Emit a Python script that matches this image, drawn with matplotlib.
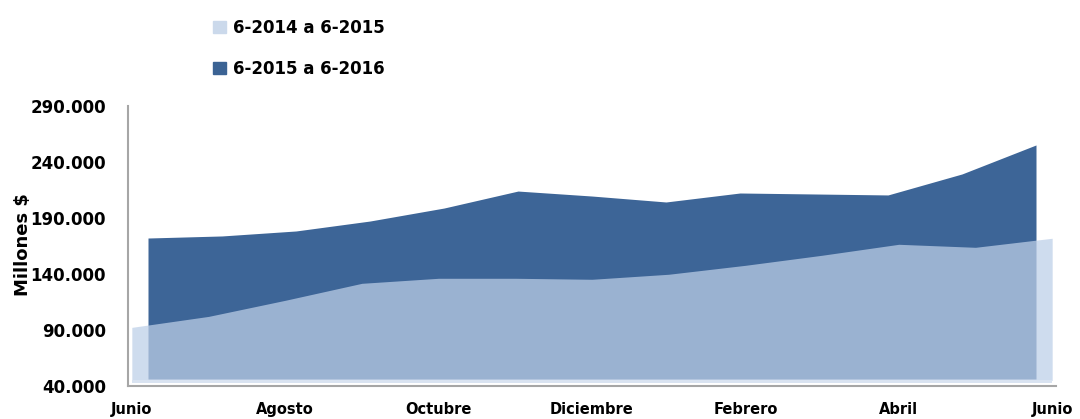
import numpy as np
import matplotlib.pyplot as plt
from matplotlib.patches import Patch
from matplotlib.ticker import FuncFormatter

# Monthly amounts, millions of pesos
months = ['Junio', 'Julio', 'Agosto', 'Septiembre', 'Octubre', 'Noviembre',
          'Diciembre', 'Enero', 'Febrero', 'Marzo', 'Abril', 'Mayo', 'Junio']
serie_2014 = [92000, 101800, 116200, 131400, 135900, 135900, 135000,
              139500, 147500, 156500, 166300, 163600, 171700]
serie_2015 = [170300, 172200, 176800, 186000, 198000, 213700, 209100,
              203600, 211900, 211000, 210100, 229500, 256300]
label_2014 = '6-2014 a 6-2015'
label_2015 = '6-2015 a 6-2016'

W, H = 1080, 419
dark = '#3d6597'
light = '#bdcfe8'

fig = plt.figure(figsize=(W / 100, H / 100), dpi=100)

# back series sits a bit deeper (smaller and shifted), like the 3D excel look
ax_back = fig.add_axes([148 / W, (H - 379) / H, 888 / W, 270.5 / H])
ax_back.set_xlim(0, 12)
ax_back.set_ylim(40000, 290000)
ax_back.axis('off')
x = np.arange(len(months))
ax_back.fill_between(x, serie_2015, 40000, color=dark, lw=0)

ax = fig.add_axes([128 / W, (H - 385.5) / H, 928 / W, 279.5 / H])
ax.set_facecolor('none')
ax.set_xlim(-0.05, 12.05)
ax.set_ylim(40000, 290000)
ax.fill_between(x, serie_2014, 44500, color=light, alpha=0.73, lw=0)
# floor strip under the front series
ax.fill_between([0, 12], 42000, 44500, color='#d9e3f1', lw=0)

for s in ['top', 'right']:
    ax.spines[s].set_visible(False)
for s in ['left', 'bottom']:
    ax.spines[s].set_color('#a6a6a6')
    ax.spines[s].set_linewidth(1.5)

ax.set_yticks(np.arange(40000, 290001, 50000))
ax.yaxis.set_major_formatter(FuncFormatter(lambda v, p: '{:,.0f}'.format(v).replace(',', '.')))
ax.set_xticks(x[::2])
ax.set_xticklabels(months[::2])
ax.tick_params(axis='both', length=0, labelsize=10.5)
ax.tick_params(axis='y', pad=16, labelsize=12)
ax.tick_params(axis='x', pad=12)
for t in ax.get_xticklabels() + ax.get_yticklabels():
    t.set_fontweight('bold')

fig.text(23 / W, 1 - 245 / H, 'Millones $', rotation=90, ha='center', va='center',
         fontsize=13, fontweight='bold')

handles = [Patch(color='#cbd9eb', label=label_2014), Patch(color='#3b6394', label=label_2015)]
fig.legend(handles=handles, loc='upper left', bbox_to_anchor=(198 / W, 1 - 4 / H),
           frameon=False, prop={'weight': 'bold', 'size': 12},
           handlelength=0.75, handleheight=0.75, handletextpad=0.45, labelspacing=1.35)

fig.savefig('out.png', dpi=100)
